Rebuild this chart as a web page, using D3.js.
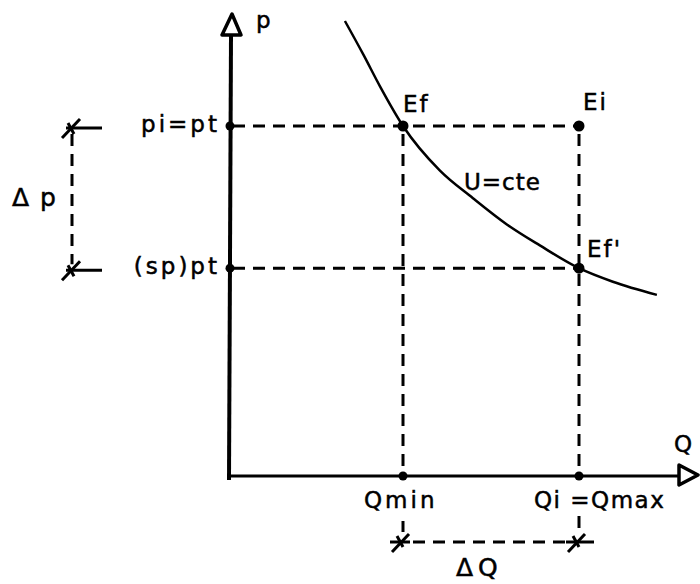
<!DOCTYPE html>
<html>
<head>
<meta charset="utf-8">
<script src="https://cdn.jsdelivr.net/npm/d3@7"></script>
<style>
  body { margin: 0; background: #fff; }
  text { font-family: "DejaVu Sans", sans-serif; font-size: 23px; fill: #000; stroke: #000; stroke-width: 0.5px; }
</style>
</head>
<body>
<svg id="chart" width="700" height="584"></svg>
<script>
// Values (arbitrary units, origin at the axes corner)

// iso-utility curve U = cte
var curveQ = [26.8, 31, 34.8, 40, 48.4, 55.9, 63.6, 71.1, 80, 87.7, 97.7];
var curveP = [104, 96.3, 89, 80, 69.8, 63.5, 57.5, 52.7, 47.5, 44.4, 41.4];

// labelled equilibrium points
var pointNames = ["Ef", "Ei", "Ef'"];
var pointQ     = [40, 80, 80];
var pointP     = [80, 80, 47.5];

// axis tick values + labels
var pTicks      = [80, 47.5];
var pTickLabels = ["pi=pt", "(sp)pt"];
var qTicks      = [40, 80];
var qTickLabels = ["Qmin", "Qi =Qmax"];

//////////////////////////////////////////////////////////////////////////////
// Scales

var x = d3.scaleLinear().domain([0, 104]).range([227, 684.6]);
var y = d3.scaleLinear().domain([0, 100]).range([476, 38.5]);

var svg = d3.select("#chart");

var curveData = curveQ.map(function(q, i) { return { Q: q, p: curveP[i] }; });
var pts = pointNames.map(function(n, i) { return { name: n, Q: pointQ[i], p: pointP[i] }; });

//////////////////////////////////////////////////////////////////////////////
// Dashed guide lines

var dash = "12,8";
var guides = svg.append("g")
    .attr("stroke", "#000")
    .attr("stroke-width", 3)
    .attr("stroke-dasharray", dash)
    .attr("fill", "none");

// horizontal guides from the p axis out to Ei / Ef'
pTicks.forEach(function(pv) {
    guides.append("line")
        .attr("x1", x(0) + 6).attr("x2", x(qTicks[1]))
        .attr("y1", y(pv)).attr("y2", y(pv));
});

// vertical guides from the points down to the Q axis
guides.append("line")
    .attr("x1", x(qTicks[0])).attr("x2", x(qTicks[0]))
    .attr("y1", y(pTicks[0]) + 8).attr("y2", y(0));
guides.append("line")
    .attr("x1", x(qTicks[1])).attr("x2", x(qTicks[1]))
    .attr("y1", y(pTicks[0]) + 8).attr("y2", y(0));

// Δp bracket
var bx = 72;
guides.append("line")
    .attr("x1", bx).attr("x2", bx)
    .attr("y1", y(pTicks[0]) + 8).attr("y2", y(pTicks[1]) - 4);

// ΔQ bracket
var by = 542;
guides.append("line")
    .attr("x1", x(qTicks[0]) + 10).attr("x2", x(qTicks[1]) - 6)
    .attr("y1", by).attr("y2", by);
guides.append("line")
    .attr("x1", x(qTicks[0])).attr("x2", x(qTicks[0]))
    .attr("y1", 521).attr("y2", 532);
guides.append("line")
    .attr("x1", x(qTicks[1])).attr("x2", x(qTicks[1]))
    .attr("y1", 516).attr("y2", 530);

// star-like ticks on the bracket ends
var ticks = svg.append("g").attr("stroke", "#000").attr("stroke-width", 3).attr("fill", "none");
pTicks.forEach(function(pv) {
    var yy = y(pv) + 2;
    ticks.append("line").attr("x1", bx - 10).attr("y1", yy + 10).attr("x2", bx + 8).attr("y2", yy - 9);
    ticks.append("line").attr("x1", bx - 4).attr("y1", yy - 5).attr("x2", bx + 2).attr("y2", yy + 6);
    ticks.append("line").attr("x1", bx - 6).attr("y1", yy).attr("x2", bx + 30).attr("y2", yy);
});
qTicks.forEach(function(qv, i) {
    var xx = x(qv) - 3;
    ticks.append("line").attr("x1", xx - 8).attr("y1", by + 10).attr("x2", xx + 9).attr("y2", by - 8);
    ticks.append("line").attr("x1", xx - 3).attr("y1", by - 6).attr("x2", xx + 3).attr("y2", by + 5);
    ticks.append("line").attr("x1", xx - 10).attr("y1", by).attr("x2", xx + (i === 1 ? 18 : 10)).attr("y2", by);
});

//////////////////////////////////////////////////////////////////////////////
// Axes with open arrow heads

svg.append("line")
    .attr("x1", x(0) + 2).attr("y1", y(0) + 4)
    .attr("x2", x(0) + 4).attr("y2", y(100) - 3)
    .attr("stroke", "#000").attr("stroke-width", 4);
svg.append("line")
    .attr("x1", x(0)).attr("y1", y(0))
    .attr("x2", x(103.5)).attr("y2", y(0))
    .attr("stroke", "#000").attr("stroke-width", 3);

svg.append("path")
    .attr("d", "M" + (x(0) + 5) + ",14 L" + (x(0) + 14) + ",35 L" + (x(0) - 5) + ",35 Z")
    .attr("fill", "#fff").attr("stroke", "#000").attr("stroke-width", 3.5)
    .attr("stroke-linejoin", "round");
svg.append("path")
    .attr("d", "M679," + (y(0) - 11) + " L698," + (y(0) - 1) + " L679," + (y(0) + 9) + " Z")
    .attr("fill", "#fff").attr("stroke", "#000").attr("stroke-width", 3.5)
    .attr("stroke-linejoin", "round");

svg.append("text").attr("x", 256).attr("y", 28).text("p");
svg.append("text").attr("x", 674).attr("y", 452).text("Q");

//////////////////////////////////////////////////////////////////////////////
// Curve U = cte

var line = d3.line()
    .x(function(d) { return x(d.Q); })
    .y(function(d) { return y(d.p); })
    .curve(d3.curveMonotoneX);

svg.append("path")
    .datum(curveData)
    .attr("d", line)
    .attr("fill", "none")
    .attr("stroke", "#000")
    .attr("stroke-width", 2.5);

svg.append("text").attr("x", 464).attr("y", 190).attr("letter-spacing", 1).text("U=cte");

//////////////////////////////////////////////////////////////////////////////
// Points, axis dots and labels

var dots = svg.append("g").attr("fill", "#000");
pts.forEach(function(d) {
    dots.append("circle").attr("cx", x(d.Q)).attr("cy", y(d.p)).attr("r", 5.5);
});
pTicks.forEach(function(pv) {
    dots.append("circle").attr("cx", x(0) + 3).attr("cy", y(pv)).attr("r", 4.5);
});
qTicks.forEach(function(qv) {
    dots.append("circle").attr("cx", x(qv)).attr("cy", y(0)).attr("r", 4.5);
});

var ptOffsets = { "Ef": [0, -14], "Ei": [4, -16], "Ef'": [8, -11] };
svg.append("g").selectAll("text")
    .data(pts)
    .enter()
    .append("text")
    .attr("x", function(d) { return x(d.Q) + ptOffsets[d.name][0]; })
    .attr("y", function(d) { return y(d.p) + ptOffsets[d.name][1]; })
    .attr("letter-spacing", 2)
    .text(function(d) { return d.name; });

svg.append("g").selectAll("text")
    .data(pTicks)
    .enter()
    .append("text")
    .attr("x", 220)
    .attr("y", function(d) { return y(d) + 6; })
    .attr("text-anchor", "end")
    .attr("letter-spacing", 3)
    .text(function(d, i) { return pTickLabels[i]; });

svg.append("text").attr("x", 364).attr("y", 508).attr("letter-spacing", 3).text(qTickLabels[0]);
svg.append("text").attr("x", 534).attr("y", 508).attr("letter-spacing", 1.5).text(qTickLabels[1]);

svg.append("text").attr("x", 12).attr("y", 206).attr("letter-spacing", 11)
    .style("font-size", "25px").text("Δp");
svg.append("text").attr("x", 456).attr("y", 576).attr("letter-spacing", 5)
    .style("font-size", "25px").text("ΔQ");
</script>
</body>
</html>
